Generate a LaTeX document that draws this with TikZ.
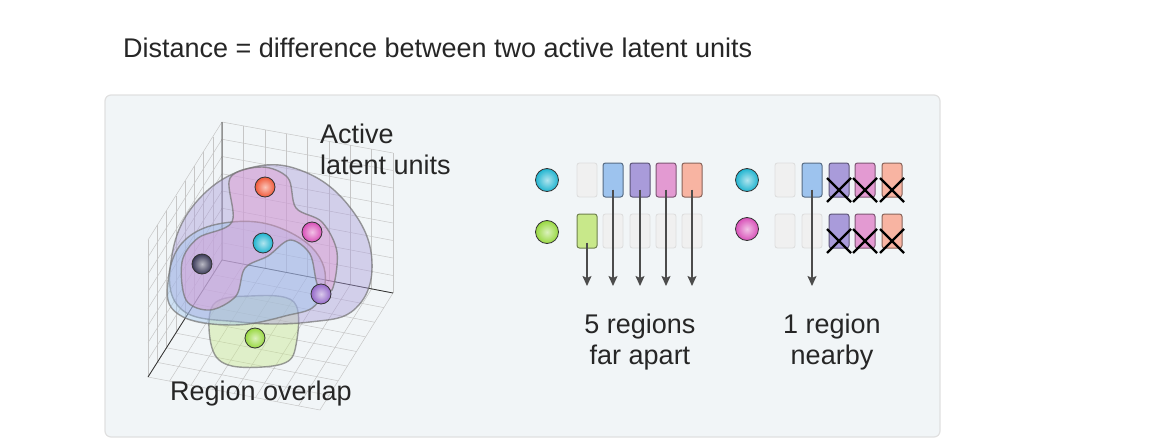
\documentclass[tikz,border=0pt]{standalone}
\usepackage{fontspec}
\setmainfont{Liberation Sans}
\usetikzlibrary{arrows.meta}
\begin{document}
\begin{tikzpicture}[x=1pt,y=-1pt,
  lbl/.style={font=\fontsize{27}{31}\selectfont, text=black!85, inner sep=0},
  gridl/.style={draw=gray!45, line width=0.5},
  axisl/.style={draw=black!80, line width=0.8},
  blob/.style={draw=black!55, draw opacity=0.7, line width=1.4, fill opacity=0.42},
  ballnode/.style={circle, minimum size=20, inner sep=0, draw=black!80, line width=0.8, shading=radial, inner color=#1!35!white, outer color=#1},
  cell/.style={rounded corners=2.5, minimum width=20, minimum height=34, inner sep=0, draw=#1!55!black, line width=1, fill=#1},
  emptycell/.style={rounded corners=2.5, minimum width=20, minimum height=34, inner sep=0, draw=black!13, fill=black!6, line width=0.9},
  arr/.style={-{Stealth[length=10pt,width=9pt,inset=2pt]}, draw=black!70, line width=1.4},
  xmark/.style={draw=black, line width=2.4}]
\useasboundingbox (0,0) rectangle (1157,439);
\definecolor{bgbox}{HTML}{F1F5F7}
\definecolor{cblue}{HTML}{9DC3EE}
\definecolor{cpurp}{HTML}{A99BDA}
\definecolor{cpink}{HTML}{E39AD2}
\definecolor{csalm}{HTML}{F8B4A2}
\definecolor{cgreen}{HTML}{C8E88A}
\definecolor{bcyan}{HTML}{20B4D0}
\definecolor{bgreen}{HTML}{98D840}
\definecolor{bmag}{HTML}{D850B8}
\definecolor{bred}{HTML}{F05838}
\definecolor{bdark}{HTML}{3A3A58}
\definecolor{bviol}{HTML}{9468C8}
\node[lbl, anchor=base west] (title) at (123,57) {Distance = difference between two active latent units};
\draw[rounded corners=6, draw=black!12, line width=1.2, fill=bgbox] (105,95) rectangle (940,437);
% grids
\foreach \i in {0,...,8}{
  \pgfmathsetmacro{\t}{\i/8}
  \draw[gridl] ({222+171*\t},{122+31*\t}) -- ({222+171*\t},{260+33*\t});
  \draw[gridl] (222,{122+138*\t}) -- (393,{153+140*\t});
  \draw[gridl] ({222-74*\t},{122+118*\t}) -- ({222-74*\t},{260+117*\t});
  \draw[gridl] (222,{122+138*\t}) -- (148,{240+137*\t});
  \draw[gridl] ({222+171*\t},{260+33*\t}) -- ({148+172*\t},{377+33*\t});
  \draw[gridl] ({222-74*\t},{260+117*\t}) -- ({393-73*\t},{293+117*\t});
}
\draw[axisl] (222,122) -- (222,260) -- (393,293);
\draw[axisl] (222,260) -- (148,377);
% blobs
\draw[blob, fill=cgreen] plot[smooth cycle, tension=0.6] coordinates {(213,305) (250,296) (294,302) (296,345) (282,364) (232,366) (212,348)};
\draw[blob, fill=cpurp] plot[smooth cycle, tension=0.7] coordinates {(172,255) (198,200) (250,168) (305,172) (352,210) (372,262) (356,308) (310,322) (240,322) (180,308)};
\draw[blob, fill=cblue] plot[smooth cycle, tension=0.7] coordinates {(168,282) (185,240) (232,222) (285,230) (322,262) (318,302) (285,316) (230,325) (178,314)};
\draw[blob, fill=cpink] plot[smooth cycle, tension=0.55] coordinates {(230,178) (262,167) (288,178) (296,208) (322,222) (337,252) (332,290) (318,286) (310,254) (290,240) (268,256) (245,268) (236,296) (210,310) (186,300) (182,262) (198,238) (232,222)};
\node[ballnode=bred] (pr) at (265,187) {};
\node[ballnode=bmag] (pm) at (312,232) {};
\node[ballnode=bcyan] (pc) at (263,243) {};
\node[ballnode=bdark] (pd) at (202,264) {};
\node[ballnode=bviol] (pv) at (321,294) {};
\node[ballnode=bgreen] (pg) at (255,338) {};
\node[lbl, anchor=base west] (act1) at (320,143) {Active};
\node[lbl, anchor=base west] (act2) at (320,174) {latent units};
\node[lbl, anchor=base west] (reg) at (170,400) {Region overlap};
% left comparison
\node[ballnode=bcyan, minimum size=23] (lc) at (547,180) {};
\node[ballnode=bgreen, minimum size=23] (lg) at (547,232) {};
\node[emptycell] (a1) at (587,180) {};
\node[cell=cblue] (a2) at (613,180) {};
\node[cell=cpurp] (a3) at (640,180) {};
\node[cell=cpink] (a4) at (666,180) {};
\node[cell=csalm] (a5) at (692,180) {};
\node[cell=cgreen] (b1) at (587,231) {};
\node[emptycell] (b2) at (613,231) {};
\node[emptycell] (b3) at (640,231) {};
\node[emptycell] (b4) at (666,231) {};
\node[emptycell] (b5) at (692,231) {};
\coordinate (e1) at (587,286);
\coordinate (e2) at (613,286);
\coordinate (e3) at (640,286);
\coordinate (e4) at (666,286);
\coordinate (e5) at (692,286);
\draw[arr] ([yshift=6]b1.south) -- (e1);
\draw[arr] ([yshift=8]a2.south) -- (e2);
\draw[arr] ([yshift=8]a3.south) -- (e3);
\draw[arr] ([yshift=8]a4.south) -- (e4);
\draw[arr] ([yshift=8]a5.south) -- (e5);
\node[lbl, align=center, anchor=north] (t5) at (640,314) {5 regions\\far apart};
% right comparison
\node[ballnode=bcyan, minimum size=23] (rc) at (747,180) {};
\node[ballnode=bmag, minimum size=23] (rm) at (747,229) {};
\node[emptycell] (c1) at (785,180) {};
\node[cell=cblue] (c2) at (812,180) {};
\node[cell=cpurp] (c3) at (839,180) {};
\node[cell=cpink] (c4) at (865,180) {};
\node[cell=csalm] (c5) at (892,180) {};
\node[emptycell] (d1) at (785,231) {};
\node[emptycell] (d2) at (812,231) {};
\node[cell=cpurp] (d3) at (839,231) {};
\node[cell=cpink] (d4) at (865,231) {};
\node[cell=csalm] (d5) at (892,231) {};
\coordinate (e6) at (812,286);
\draw[arr] ([yshift=8]c2.south) -- (e6);
\foreach \n in {c3,c4,c5,d3,d4,d5}{
  \draw[xmark] ([shift={(-12,-2)}]\n.center) -- ([shift={(12,22)}]\n.center);
  \draw[xmark] ([shift={(12,-2)}]\n.center) -- ([shift={(-12,22)}]\n.center);
}
\node[lbl, align=center, anchor=north] (t1) at (832,314) {1 region\\nearby};
\end{tikzpicture}
\end{document}
